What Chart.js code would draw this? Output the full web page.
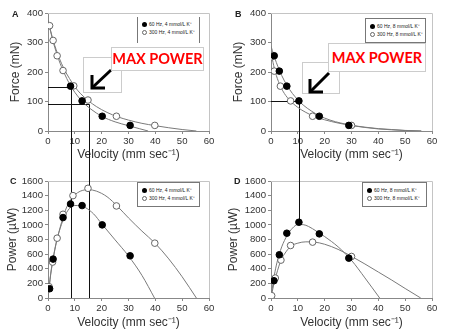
<!DOCTYPE html>
<html>
<head>
<meta charset="utf-8">
<script src="https://cdn.jsdelivr.net/npm/chart.js@4.4.1/dist/chart.umd.min.js"></script>
<style>
  body { margin: 0; background: #fff; }
  #fig { position: relative; width: 450px; height: 336px; overflow: hidden; font-family: "Liberation Sans", Arial, sans-serif; }
  .panel { position: absolute; width: 225px; height: 168px; }
  .tag { position: absolute; font: bold 9px "Liberation Sans", Arial, sans-serif; color: #222; }
  .legend { position: absolute; background: #fff; border: 1px solid #777; font-size: 5px; color: #222; box-sizing: border-box; padding: 3px 0 0 4px; }
  .legend.sides { border-top: none; border-bottom: none; }
  .legend div { height: 8px; line-height: 8px; white-space: nowrap; }
  .dot { display: inline-block; width: 5px; height: 5px; border-radius: 50%; vertical-align: middle; margin-right: 2px; box-sizing: border-box; }
  .dot.full { background: #000; }
  .dot.open { background: #fff; border: 1px solid #666; }
  .arrowbox { position: absolute; background: #fff; border: 1px solid #ccc; box-sizing: border-box; }
  .maxbox { position: absolute; background: #fff; border: 1px solid #ccc; box-sizing: border-box; color: #ff0000; font: bold 14.5px Lato, "Open Sans", sans-serif; text-align: center; white-space: nowrap; }
</style>
</head>
<body>
<div id="fig">
  <div class="panel" style="left:0;top:0"><canvas id="chartA" width="225" height="168"></canvas></div>
  <div class="panel" style="left:225px;top:0"><canvas id="chartB" width="225" height="168"></canvas></div>
  <div class="panel" style="left:0;top:168px"><canvas id="chartC" width="225" height="168"></canvas></div>
  <div class="panel" style="left:225px;top:168px"><canvas id="chartD" width="225" height="168"></canvas></div>

  <span class="tag" style="left:12px;top:9px">A</span>
  <span class="tag" style="left:235px;top:9px">B</span>
  <span class="tag" style="left:10px;top:176px">C</span>
  <span class="tag" style="left:234px;top:176px">D</span>

  <div class="legend sides" style="left:137px;top:17px;width:63px;height:26px">
    <div><span class="dot full"></span>60 Hz, 4 mmol/L K⁺</div>
    <div><span class="dot open"></span>300 Hz, 4 mmol/L K⁺</div>
  </div>
  <div class="legend" style="left:365px;top:18px;width:61px;height:25px">
    <div><span class="dot full"></span>60 Hz, 8 mmol/L K⁺</div>
    <div><span class="dot open"></span>300 Hz, 8 mmol/L K⁺</div>
  </div>
  <div class="legend" style="left:137px;top:182px;width:63px;height:25px">
    <div><span class="dot full"></span>60 Hz, 4 mmol/L K⁺</div>
    <div><span class="dot open"></span>300 Hz, 4 mmol/L K⁺</div>
  </div>
  <div class="legend" style="left:362px;top:182px;width:65px;height:25px">
    <div><span class="dot full"></span>60 Hz, 8 mmol/L K⁺</div>
    <div><span class="dot open"></span>300 Hz, 8 mmol/L K⁺</div>
  </div>

  <div class="arrowbox" style="left:83px;top:57px;width:39px;height:36px">
    <svg width="39" height="36"><g stroke="#000" stroke-width="3" fill="none">
      <line x1="27" y1="12" x2="9" y2="29"/>
      <polyline points="8,17 8,30 21,30"/>
    </g></svg>
  </div>
  <div class="maxbox" style="left:111px;top:47px;width:93px;height:24px;line-height:22px">MAX POWER</div>

  <div class="arrowbox" style="left:302px;top:62px;width:38px;height:32px">
    <svg width="38" height="32"><g stroke="#000" stroke-width="3" fill="none">
      <line x1="26" y1="10" x2="8" y2="28"/>
      <polyline points="7,16 7,29 20,29"/>
    </g></svg>
  </div>
  <div class="maxbox" style="left:328px;top:43px;width:98px;height:29px;line-height:27px">MAX POWER</div>
</div>

<script>
// --- force-velocity, 4 mmol/L K+ ---
const velA60 = [8.4, 12.7, 20.2, 30.6];
const forceA60 = [152, 102, 50, 19];
const velA300 = [0.6, 1.9, 3.4, 5.6, 9.6, 14.9, 25.5, 39.8];
const forceA300 = [357, 307, 255, 205, 153, 105, 50, 19];
const fitVelA60 = [0, 2, 4, 6, 8, 10, 12, 14, 16, 20, 25, 30, 34, 37.3];
const fitForceA60 = [375, 300, 242, 197, 160, 131, 108, 89, 74, 50, 31, 18, 8, 0];
const fitVelA300 = [0, 2, 4, 6, 8, 10, 12, 15, 18, 22, 26, 30, 35, 40, 45, 50, 55.3];
const fitForceA300 = [375, 305, 252, 210, 178, 150, 128, 103, 83, 63, 48, 37, 26, 18, 11, 5, 0];

// --- force-velocity, 8 mmol/L K+ ---
const velB60 = [1.2, 3.1, 5.9, 10.4, 18.0, 29.0];
const forceB60 = [255, 203, 152, 102, 50, 19];
const velB300 = [0.2, 1.2, 3.5, 7.3, 15.5, 30.0];
const forceB300 = [252, 203, 152, 102, 50, 19];
const fitVelB60 = [0, 2, 4, 6, 8, 10, 12, 15, 18, 22, 26, 30, 35, 40, 45, 50, 56];
const fitForceB60 = [287, 232, 188, 154, 127, 106, 88, 68, 52, 37, 27, 19, 12, 7, 4, 1.5, 0];
const fitVelB300 = [0, 1, 2, 3.5, 5, 7, 10, 13, 16, 20, 25, 30, 35, 40, 45, 50, 56];
const fitForceB300 = [268, 222, 188, 152, 127, 104, 80, 63, 50, 38, 27, 19, 13, 8, 5, 2, 0];

// --- power-velocity, 4 mmol/L K+ ---
const velC60 = [0.6, 1.9, 5.6, 8.4, 12.7, 20.2, 30.6];
const powerC60 = [127, 532, 1100, 1286, 1264, 1000, 577];
const velC300 = [0.4, 1.7, 3.4, 5.6, 9.3, 14.9, 25.5, 39.8];
const powerC300 = [155, 491, 818, 1145, 1400, 1500, 1259, 750];
const fitVelC60 = [0, 1, 2, 3, 4, 6, 8, 10, 12, 14, 17, 20, 25, 30, 35, 39.7];
const fitPowerC60 = [0, 330, 560, 750, 890, 1100, 1225, 1265, 1262, 1235, 1150, 1015, 795, 575, 310, 0];
const fitVelC300 = [0, 1, 2, 3, 4, 6, 8, 10, 12, 15, 18, 22, 26, 30, 35, 40, 45, 50, 55.3];
const fitPowerC300 = [0, 320, 550, 740, 890, 1150, 1320, 1410, 1460, 1482, 1462, 1385, 1250, 1095, 915, 745, 535, 290, 0];

// --- power-velocity, 8 mmol/L K+ ---
const velD60 = [1.1, 3.1, 5.9, 10.4, 18.0, 29.0];
const powerD60 = [236, 591, 886, 1036, 877, 545];
const velD300 = [0.25, 1.6, 3.7, 7.3, 15.5, 30.0];
const powerD300 = [32, 273, 518, 718, 764, 568];
const fitVelD60 = [0, 1, 2, 3, 4, 6, 8, 10, 12, 14, 17, 20, 25, 30, 35, 40.5];
const fitPowerD60 = [0, 260, 450, 590, 700, 855, 955, 1005, 1003, 978, 912, 840, 700, 515, 275, 0];
const fitVelD300 = [0, 1, 2, 3.7, 5, 7.3, 10, 13, 16, 20, 25, 30, 35, 40, 45, 50, 55.8];
const fitPowerD300 = [0, 180, 320, 515, 600, 705, 750, 768, 765, 735, 665, 570, 465, 355, 245, 130, 0];

// velocity / force at max power (guide lines)
const maxVelA = [8.6, 15.2];
const maxForceA = [150, 93];
const maxVelB = [10.4];
const maxForceB = [102];
const maxPowerD = [1036];

const pts = (xs, ys) => xs.map((x, i) => ({ x, y: ys[i] }));

// light frame on the top and right edge of the plot area
const frame = {
  id: 'frame',
  beforeDatasetsDraw(chart) {
    const { ctx, chartArea: a } = chart;
    ctx.save();
    ctx.strokeStyle = '#c4c4c4';
    ctx.lineWidth = 1;
    ctx.beginPath();
    ctx.moveTo(a.left, a.top + 0.5);
    ctx.lineTo(a.right + 0.5, a.top + 0.5);
    ctx.lineTo(a.right + 0.5, a.bottom);
    ctx.stroke();
    ctx.restore();
  }
};

// black guide lines: "drops" go from the y axis to a point and then down off the canvas,
// "rises" come down from the canvas top to a point
const guides = {
  id: 'guides',
  beforeDatasetsDraw(chart, args, opts) {
    const { ctx, scales: { x, y } } = chart;
    ctx.save();
    ctx.strokeStyle = '#111';
    ctx.lineWidth = 1;
    ctx.beginPath();
    (opts.drops || []).forEach(p => {
      const px = Math.round(x.getPixelForValue(p.x)) + 0.5;
      const py = Math.round(y.getPixelForValue(p.y)) + 0.5;
      ctx.moveTo(x.getPixelForValue(0), py);
      ctx.lineTo(px, py);
      ctx.moveTo(px, py);
      ctx.lineTo(px, chart.height);
    });
    (opts.rises || []).forEach(p => {
      const px = Math.round(x.getPixelForValue(p.x)) + 0.5;
      ctx.moveTo(px, 0);
      ctx.lineTo(px, y.getPixelForValue(p.y));
    });
    ctx.stroke();
    ctx.restore();
  }
};

function makePanel(id, cfg) {
  const tickFont = { family: '"Liberation Sans", Arial, sans-serif', size: 9.6 };
  const titleFont = { family: '"Liberation Sans", Arial, sans-serif', size: 12 };
  new Chart(document.getElementById(id), {
    type: 'scatter',
    data: {
      datasets: [
        { data: pts(cfg.v60, cfg.y60), pointRadius: 3.3, backgroundColor: '#000', borderColor: '#000', borderWidth: 1 },
        { data: pts(cfg.v300, cfg.y300), pointRadius: 3.3, backgroundColor: '#fff', borderColor: '#666', borderWidth: 1 },
        { data: pts(cfg.fv60, cfg.fy60), showLine: true, pointRadius: 0, borderColor: '#7a7a7a', borderWidth: 1, cubicInterpolationMode: 'monotone' },
        { data: pts(cfg.fv300, cfg.fy300), showLine: true, pointRadius: 0, borderColor: '#7a7a7a', borderWidth: 1, cubicInterpolationMode: 'monotone' }
      ]
    },
    options: {
      responsive: false,
      animation: false,
      events: [],
      devicePixelRatio: 1,
      layout: { padding: { left: 0, top: 13, right: cfg.padRight, bottom: 0 } },
      plugins: {
        legend: { display: false },
        tooltip: { enabled: false },
        guides: cfg.guides
      },
      scales: {
        x: {
          min: 0, max: 60,
          ticks: { stepSize: 10, autoSkip: false, font: tickFont, color: '#333', padding: 2, maxRotation: 0, callback: v => String(v) },
          grid: { drawOnChartArea: false, tickLength: 3, color: '#888' },
          border: { color: '#888' },
          title: { display: true, text: 'Velocity (mm sec⁻¹)', font: titleFont, color: '#333', padding: { top: 0, bottom: 6 } },
          afterFit: s => { s.height = cfg.xHeight; }
        },
        y: {
          min: 0, max: cfg.yMax,
          ticks: { stepSize: cfg.yStep, autoSkip: false, font: tickFont, color: '#333', padding: 2, callback: v => String(v) },
          grid: { drawOnChartArea: false, tickLength: 3, color: '#888' },
          border: { color: '#888' },
          title: { display: true, text: cfg.yTitle, font: titleFont, color: '#333', padding: { top: cfg.yTitlePad, bottom: 0 } },
          afterFit: s => { s.width = cfg.yWidth; }
        }
      }
    },
    plugins: [frame, guides]
  });
}

makePanel('chartA', {
  v60: velA60, y60: forceA60, v300: velA300, y300: forceA300,
  fv60: fitVelA60, fy60: fitForceA60, fv300: fitVelA300, fy300: fitForceA300,
  yMax: 400, yStep: 100, yTitle: 'Force (mN)', yTitlePad: 8,
  yWidth: 48, xHeight: 37, padRight: 16,
  guides: { drops: pts(maxVelA, maxForceA) }
});
makePanel('chartB', {
  v60: velB60, y60: forceB60, v300: velB300, y300: forceB300,
  fv60: fitVelB60, fy60: fitForceB60, fv300: fitVelB300, fy300: fitForceB300,
  yMax: 400, yStep: 100, yTitle: 'Force (mN)', yTitlePad: 6,
  yWidth: 46, xHeight: 37, padRight: 18,
  guides: { drops: pts(maxVelB, maxForceB) }
});
makePanel('chartC', {
  v60: velC60, y60: powerC60, v300: velC300, y300: powerC300,
  fv60: fitVelC60, fy60: fitPowerC60, fv300: fitVelC300, fy300: fitPowerC300,
  yMax: 1600, yStep: 200, yTitle: 'Power (µW)', yTitlePad: 5,
  yWidth: 48, xHeight: 38, padRight: 16,
  guides: { rises: maxVelA.map(v => ({ x: v, y: 0 })) }
});
makePanel('chartD', {
  v60: velD60, y60: powerD60, v300: velD300, y300: powerD300,
  fv60: fitVelD60, fy60: fitPowerD60, fv300: fitVelD300, fy300: fitPowerD300,
  yMax: 1600, yStep: 200, yTitle: 'Power (µW)', yTitlePad: 1,
  yWidth: 46, xHeight: 38, padRight: 18,
  guides: { rises: pts(maxVelB, maxPowerD) }
});
</script>
</body>
</html>
